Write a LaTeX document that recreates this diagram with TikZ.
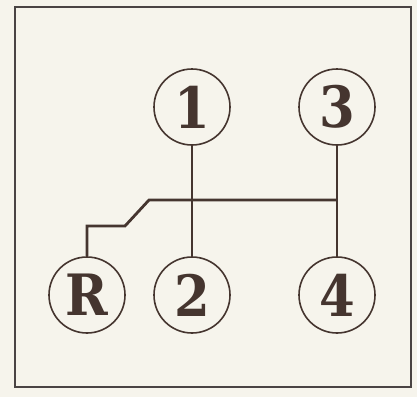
\documentclass[tikz,border=0pt]{standalone}
\usepackage{fontspec}
\setmainfont{DejaVu Serif Condensed}
\definecolor{paper}{HTML}{F6F4EC}
\definecolor{ink}{HTML}{45352F}
\definecolor{frame}{HTML}{4A4444}
\tikzset{
  gear/.style={circle, draw=ink, line width=1.6pt, minimum size=76pt, inner sep=0pt,
    text=ink, font=\fontsize{57}{57}\selectfont\bfseries},
  rod/.style={draw=ink, line width=2.8pt, line join=miter},
}
\begin{document}
\begin{tikzpicture}[x=1pt,y=-1pt]
\fill[paper] (0,0) rectangle (417,397);
\useasboundingbox (0,0) rectangle (417,397);
\draw[frame, line width=1.8pt] (15,7) rectangle (411,387);
\node[gear] (n1) at (192,107) {1};
\node[gear] (n3) at (337,107) {3};
\node[gear] (nR) at (87,295) {R};
\node[gear] (n2) at (192,295) {2};
\node[gear] (n4) at (337,295) {4};
\coordinate (j) at (337,200);
\coordinate (k1) at (149,200);
\coordinate (k2) at (125,226);
\draw[rod] (n1.south) -- (n2.north);
\draw[rod] (n3.south) -- (n4.north);
\draw[rod] (j) -- (k1) -- (k2) -- (k2 -| nR.north) -- (nR.north);
\end{tikzpicture}
\end{document}
